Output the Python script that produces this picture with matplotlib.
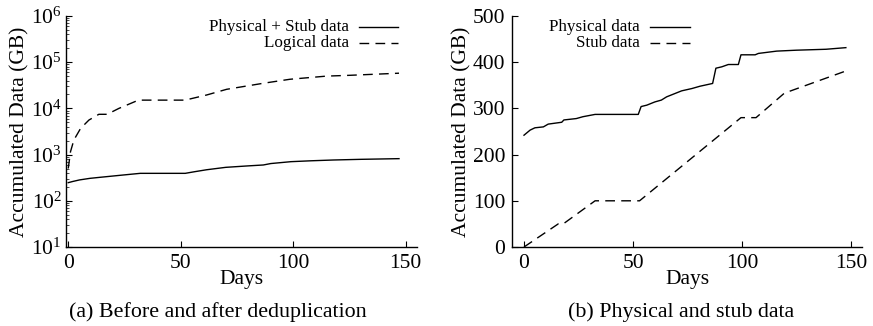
import matplotlib
matplotlib.use("Agg")
import matplotlib.pyplot as plt
from matplotlib.lines import Line2D
from matplotlib.ticker import LogLocator, FixedLocator, NullFormatter

plt.rcParams['font.family'] = ['Liberation Serif', 'DejaVu Serif']
plt.rcParams['mathtext.fontset'] = 'custom'
plt.rcParams['mathtext.rm'] = 'Liberation Serif'
plt.rcParams['mathtext.it'] = 'Liberation Serif:italic'

# ---- (a) Before and after deduplication (log scale) ----
a_days_total = [0, 2, 5, 9.6, 14, 17, 24, 32, 52, 56, 61.5, 70, 80, 86.7, 90, 99, 108, 117.8, 130, 147]
a_total = [247, 262, 283, 306, 322, 333, 360, 393, 393, 425, 470, 530, 570, 596, 640, 703, 735, 764, 790, 817]

a_days_logical = [0, 1.0, 2.5, 5.5, 9.2, 13.6, 17.3, 22.5, 31.2, 51.9, 61.5, 70.4, 86.7, 98.5, 114.8, 125, 145.9, 147]
a_logical = [500, 1155, 2070, 3700, 5600, 7450, 7450, 10000, 15100, 15100, 19500, 25900, 35000, 42700, 50000, 52000, 57500, 57800]

# ---- (b) Physical and stub data ----
b_days_phys = [0, 2.8, 5, 8.9, 11.1, 14.2, 17.3, 18.3, 24, 27, 32.6, 52.4, 53.7, 56.3, 60, 63, 65.4,
               72.3, 77, 80.7, 86.5, 88, 90.7, 93.7, 98.3, 99.5, 106, 107.5, 115.9, 125, 138.5, 147.6]
b_phys = [242, 253, 258, 260, 266, 268, 270, 275, 278, 282, 287, 287, 304, 307, 314, 318, 325,
          338, 343, 348, 354, 387, 390, 395, 395, 416, 416, 419, 424, 426, 428, 431.5]

b_days_stub = [0, 15.7, 18, 32.6, 53, 99.5, 106.4, 119.4, 147.6]
b_stub = [0, 50, 50, 100, 100, 280, 280, 333, 381]

x_ticks = [0, 50, 100, 150]

fig = plt.figure(figsize=(8.73, 3.26), dpi=100)
W, H = 873.0, 326.0
TICK_FS = 15.5
LABEL_FS = 15.5

def style(ax):
    for s in ['top', 'right']:
        ax.spines[s].set_visible(False)
    for s in ['left', 'bottom']:
        ax.spines[s].set_linewidth(1.0)
    ax.tick_params(direction='in', length=4, width=0.8, labelsize=TICK_FS, pad=5)
    ax.tick_params(which='minor', direction='in', length=2, width=0.5)
    ax.set_xticks(x_ticks)
    ax.set_xlabel('Days', fontsize=LABEL_FS, labelpad=-2)
    ax.set_ylabel('Accumulated Data (GB)', fontsize=LABEL_FS, labelpad=1)

dash = (0, (7, 4.5))

# Left axes
axL = fig.add_axes([66 / W, 1 - 247 / H, (417 - 66) / W, (247 - 16) / H])
axL.plot(a_days_total, a_total, color='black', lw=1.0)
axL.plot(a_days_logical, a_logical, color='black', lw=1.0, linestyle=dash)
axL.set_yscale('log')
axL.set_ylim(10, 1e6)
axL.set_xlim(-1, 155)
axL.yaxis.set_major_locator(FixedLocator([1e1, 1e2, 1e3, 1e4, 1e5, 1e6]))
axL.yaxis.set_minor_locator(LogLocator(base=10, subs=range(2, 10)))
axL.yaxis.set_minor_formatter(NullFormatter())
axL.set_yticklabels([r'$10^{%d}$' % k for k in range(1, 7)])
style(axL)
axL.tick_params(axis='y', pad=3)

# Right axes
axR = fig.add_axes([512 / W, 1 - 247 / H, (862 - 512) / W, (247 - 16) / H])
axR.plot(b_days_phys, b_phys, color='black', lw=1.0)
axR.plot(b_days_stub, b_stub, color='black', lw=1.0, linestyle=dash)
axR.set_ylim(0, 500)
axR.set_xlim(-5.5, 155)
axR.set_yticks([0, 100, 200, 300, 400, 500])
style(axR)

# Manual gnuplot-style legends (text right-aligned, sample line after)
def legend(ax, labels, styles, text_right, line_x0, line_x1, rows):
    for lab, ls, yy in zip(labels, styles, rows):
        ax.text(text_right, yy, lab, transform=ax.transAxes, ha='right', va='center', fontsize=12.3)
        ax.add_line(Line2D([line_x0, line_x1], [yy, yy], transform=ax.transAxes,
                           color='black', lw=1.0, linestyle=ls, clip_on=False))

rows = [(247 - 27) / 231.0, (247 - 43) / 231.0]
legend(axL, ['Physical + Stub data', 'Logical data'], ['-', dash],
       (349 - 66) / 351.0, (359 - 66) / 351.0, (398 - 66) / 351.0, rows)
legend(axR, ['Physical data', 'Stub data'], ['-', dash],
       (640 - 512) / 350.0, (650 - 512) / 350.0, (690 - 512) / 350.0, rows)

fig.text(218 / W, 1 - 312 / H, '(a) Before and after deduplication', ha='center', va='center', fontsize=15.8)
fig.text(681 / W, 1 - 312 / H, '(b) Physical and stub data', ha='center', va='center', fontsize=15.8)

fig.savefig('out.png', dpi=100)
